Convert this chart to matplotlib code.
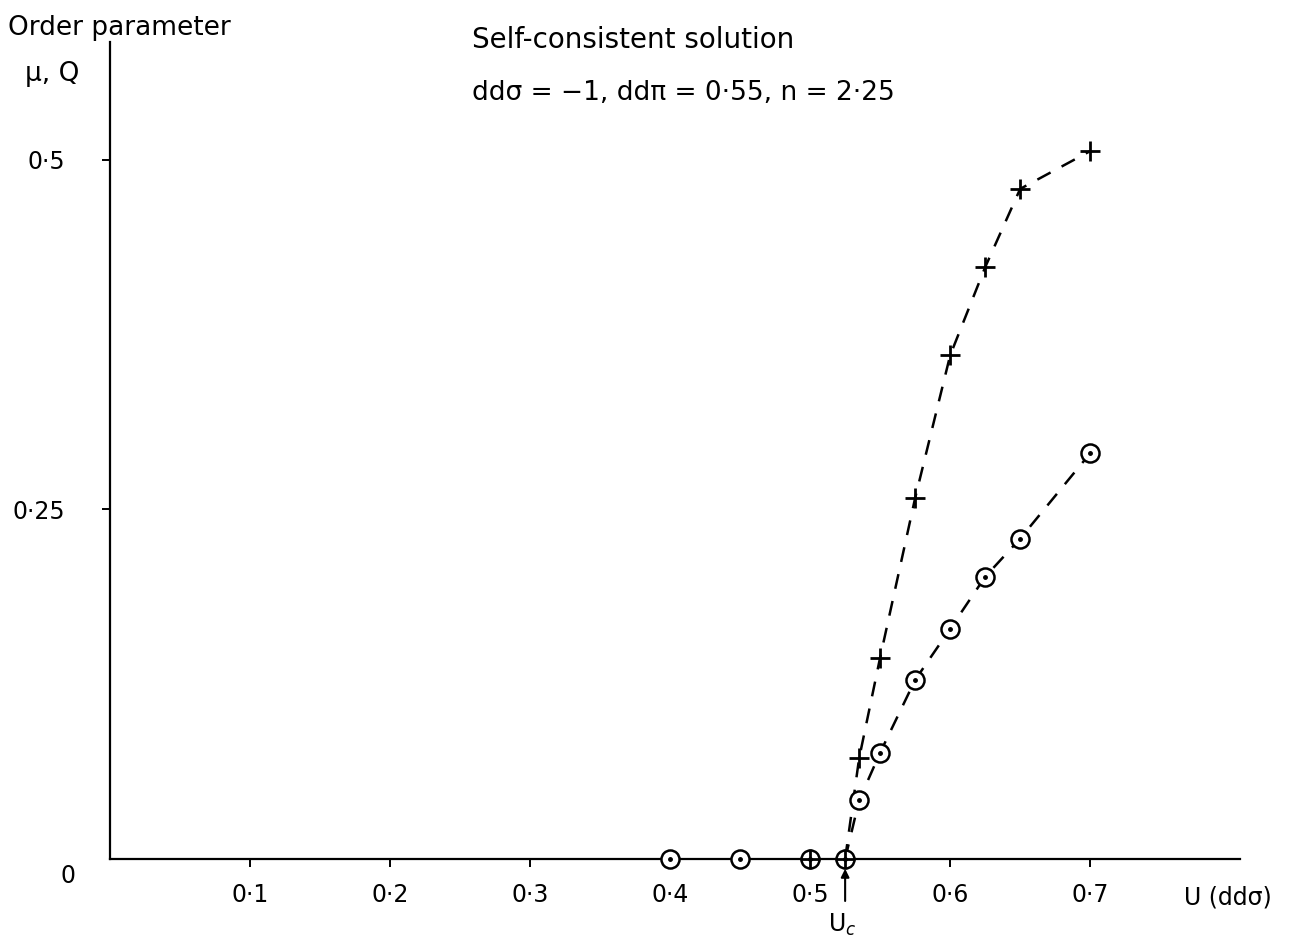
import matplotlib
matplotlib.use("Agg")
import matplotlib.pyplot as plt

# ---- data ----
u_plus = [0.5, 0.525, 0.535, 0.55, 0.575, 0.6, 0.625, 0.65, 0.7]
mu_plus = [0.0, 0.0, 0.072, 0.144, 0.258, 0.36, 0.423, 0.479, 0.506]

u_circ = [0.4, 0.45, 0.5, 0.525, 0.535, 0.55, 0.575, 0.6, 0.625, 0.65, 0.7]
q_circ = [0.0, 0.0, 0.0, 0.0, 0.042, 0.076, 0.128, 0.1645, 0.2017, 0.229, 0.29]

u_c = 0.525
xticks = [0.1, 0.2, 0.3, 0.4, 0.5, 0.6, 0.7]
xticklabels = ["0·1", "0·2", "0·3", "0·4", "0·5", "0·6", "0·7"]
yticks = [0.25, 0.5]
yticklabels = ["0·25", "0·5"]
y0_label = "0"

W, H = 1299, 943
fig = plt.figure(figsize=(W / 100, H / 100), dpi=100)
fig.patch.set_facecolor("white")

def px(x, y):
    return x / W, 1 - y / H

left, right, top, bottom = 110, 1240, 42, 859
ax = fig.add_axes([left / W, (H - bottom) / H, (right - left) / W, (bottom - top) / H])
ax.set_xlim(0, 0.807)
ax.set_ylim(0, 0.584)
for s in ["top", "right"]:
    ax.spines[s].set_visible(False)
for s in ["left", "bottom"]:
    ax.spines[s].set_linewidth(1.6)

ax.set_xticks(xticks)
ax.set_xticklabels(xticklabels)
ax.set_yticks(yticks)
ax.set_yticklabels(yticklabels)
ax.tick_params(axis="x", direction="out", length=6, width=1.4, pad=11, labelsize=17)
ax.tick_params(axis="y", direction="out", length=6, width=1.4, pad=26, labelsize=17)

# dashed curves from U_c
ln_kw = dict(color="black", lw=1.8, dashes=(6, 5), zorder=2)
ax.plot(u_plus[1:], mu_plus[1:], **ln_kw)
ax.plot(u_circ[3:], q_circ[3:], **ln_kw)

# markers
ax.plot(u_circ, q_circ, ls="none", marker="o", ms=13, mfc="white", mec="black", mew=1.8,
        zorder=3, clip_on=False)
ax.plot(u_circ, q_circ, ls="none", marker="o", ms=2.5, color="black", zorder=4, clip_on=False)
ax.plot(u_plus, mu_plus, ls="none", marker="+", ms=14, mew=2.0, color="black", zorder=5,
        clip_on=False)

# U_c arrow
ax.annotate("", xy=(u_c, -0.005), xytext=(u_c, -0.032),
            arrowprops=dict(arrowstyle="-|>", color="black", lw=1.5, mutation_scale=12),
            annotation_clip=False)
fig.text(*px(842, 925), r"U$_c$", fontsize=17, ha="center", va="center")

# zero label of the y axis
fig.text(*px(68, 876), y0_label, fontsize=17, ha="center", va="center")

# axis labels
fig.text(*px(1228, 898), "U (ddσ)", fontsize=17, ha="center", va="center")
fig.text(*px(8, 28), "Order parameter", fontsize=19, ha="left", va="center")
fig.text(*px(52, 74), "μ, Q", fontsize=19, ha="center", va="center")

# annotation text
fig.text(*px(472, 40), "Self-consistent solution", fontsize=20, ha="left", va="center")
fig.text(*px(472, 93), "ddσ = −1, ddπ = 0·55, n = 2·25", fontsize=19, ha="left", va="center")

fig.savefig("out.png", dpi=100, facecolor="white")
